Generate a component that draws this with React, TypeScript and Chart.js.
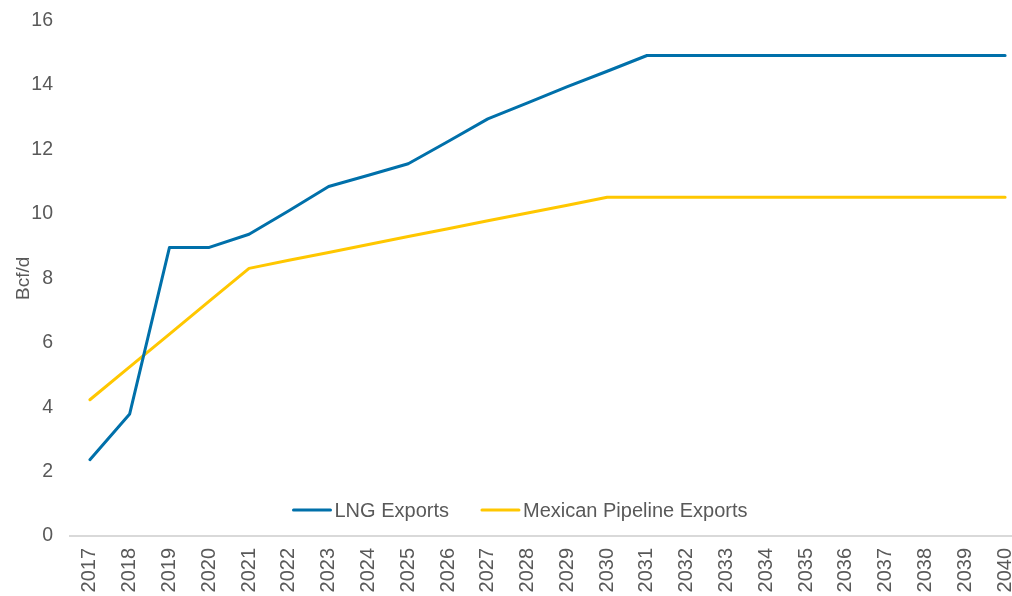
import React, { useEffect, useRef } from "react";
import { Chart, registerables } from "chart.js";

Chart.register(...registerables);

const years = [
  "2017", "2018", "2019", "2020", "2021", "2022", "2023", "2024", "2025", "2026", "2027", "2028",
  "2029", "2030", "2031", "2032", "2033", "2034", "2035", "2036", "2037", "2038", "2039", "2040",
];

const lngExports = [
  2.37, 3.79, 8.96, 8.96, 9.37, 10.1, 10.85, 11.2, 11.56, 12.25, 12.95, 13.45,
  13.95, 14.43, 14.92, 14.92, 14.92, 14.92, 14.92, 14.92, 14.92, 14.92, 14.92, 14.92,
];

const mexicanPipelineExports = [
  4.23, 5.25, 6.27, 7.29, 8.31, 8.56, 8.8, 9.05, 9.3, 9.54, 9.79, 10.03,
  10.27, 10.52, 10.52, 10.52, 10.52, 10.52, 10.52, 10.52, 10.52, 10.52, 10.52, 10.52,
];

const yTicks = [0, 2, 4, 6, 8, 10, 12, 14, 16];

const FONT = "'Liberation Sans', Arial, sans-serif";
const TEXT = "#595959";

const legendPlugin = {
  id: "innerLegend",
  afterDraw(chart: any) {
    const ctx = chart.ctx;
    const y = 510;
    const sample = 37;
    const gapText = 4;
    const gapItems = 33;
    ctx.save();
    ctx.font = `20px ${FONT}`;
    const items = chart.data.datasets.map((d: any) => ({
      text: d.label,
      color: d.borderColor,
      w: ctx.measureText(d.label).width,
    }));
    let total = 0;
    items.forEach((it: any, i: number) => {
      total += sample + gapText + it.w + (i < items.length - 1 ? gapItems : 0);
    });
    let x = 520.5 - total / 2;
    items.forEach((it: any) => {
      ctx.strokeStyle = it.color;
      ctx.lineWidth = 3;
      ctx.lineCap = "round";
      ctx.beginPath();
      ctx.moveTo(x, y);
      ctx.lineTo(x + sample, y);
      ctx.stroke();
      ctx.fillStyle = TEXT;
      ctx.textBaseline = "middle";
      ctx.textAlign = "left";
      ctx.fillText(it.text, x + sample + gapText, y + 1);
      x += sample + gapText + it.w + gapItems;
    });
    ctx.restore();
  },
};

export default function App() {
  const ref = useRef<HTMLCanvasElement | null>(null);

  useEffect(() => {
    if (!ref.current) return;
    const chart = new Chart(ref.current, {
      type: "line",
      data: {
        labels: years,
        datasets: [
          {
            label: "LNG Exports",
            data: lngExports,
            borderColor: "#0070AA",
            backgroundColor: "#0070AA",
            borderWidth: 3,
            pointRadius: 0,
            tension: 0,
            borderCapStyle: "round",
            borderJoinStyle: "round",
          },
          {
            label: "Mexican Pipeline Exports",
            data: mexicanPipelineExports,
            borderColor: "#FFC700",
            backgroundColor: "#FFC700",
            borderWidth: 3,
            pointRadius: 0,
            tension: 0,
            borderCapStyle: "round",
            borderJoinStyle: "round",
          },
        ],
      },
      options: {
        animation: false,
        responsive: false,
        maintainAspectRatio: false,
        layout: { padding: { top: 9, right: 10, left: 0, bottom: 0 } },
        plugins: {
          legend: { display: false },
          tooltip: { enabled: false },
        },
        scales: {
          x: {
            type: "category",
            offset: true,
            grid: { display: false },
            border: { display: true, color: "#D9D9D9", width: 2 },
            ticks: {
              minRotation: 90,
              maxRotation: 90,
              autoSkip: false,
              padding: 4,
              color: TEXT,
              font: { family: FONT, size: 20 },
            },
            afterFit: (s: any) => {
              s.height = 60;
            },
          },
          y: {
            min: 0,
            max: 16,
            afterBuildTicks: (s: any) => {
              s.ticks = yTicks.map((v) => ({ value: v }));
            },
            grid: { display: false },
            border: { display: false },
            ticks: {
              padding: 9,
              color: TEXT,
              font: { family: FONT, size: 19.5 },
            },
            title: {
              display: true,
              text: "Bcf/d",
              color: TEXT,
              font: { family: FONT, size: 19 },
              padding: { top: 12, bottom: 0 },
            },
            afterFit: (s: any) => {
              s.width = 70;
            },
          },
        },
      },
      plugins: [legendPlugin],
    });
    return () => chart.destroy();
  }, []);

  return (
    <div
      style={{
        position: "fixed",
        left: 0,
        top: 0,
        width: 1012,
        height: 596,
        overflow: "hidden",
        background: "#fff",
      }}
    >
      <canvas ref={ref} width={1035} height={596} style={{ display: "block", width: 1035, height: 596 }} />
    </div>
  );
}
